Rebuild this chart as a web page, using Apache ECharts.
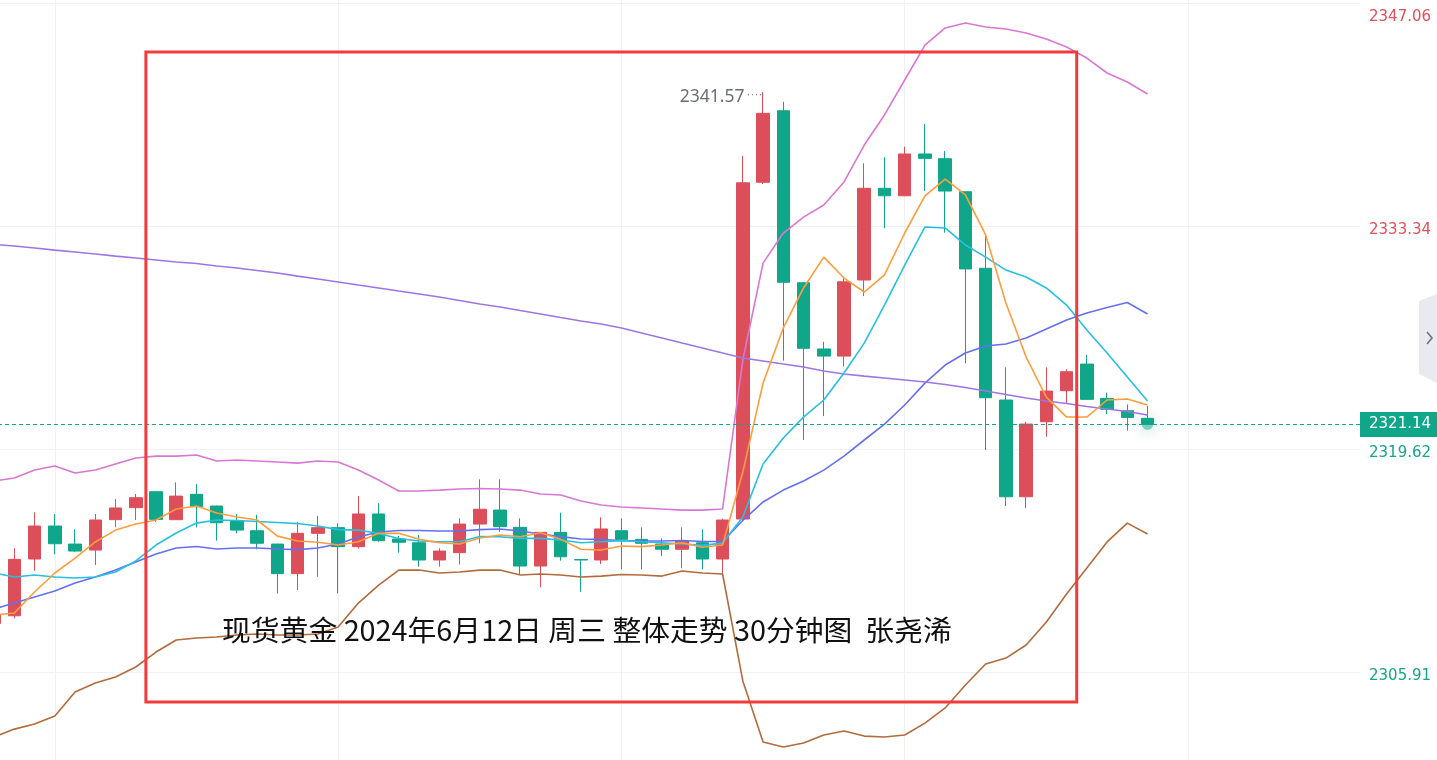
<!DOCTYPE html>
<html>
<head>
<meta charset="utf-8">
<script src="https://cdn.jsdelivr.net/npm/echarts@6/dist/echarts.min.js"></script>
<style>
html,body{margin:0;padding:0;background:#fff;overflow:hidden;width:1437px;height:760px;position:relative}
#chart{position:absolute;left:-16px;top:0;width:1453px;height:760px}
</style>
</head>
<body>
<div id="chart"></div>
<script>
// ---- 30-minute bars (red = up, green = down) ----
const opens = [2308.9, 2309.37, 2312.86, 2314.89, 2313.78, 2313.41, 2315.28, 2316.02, 2317.00, 2315.28,
  2316.84, 2316.12, 2315.20, 2314.60, 2313.78, 2311.96, 2314.44, 2314.79, 2313.62, 2315.63,
  2314.09, 2313.86, 2312.80, 2313.25, 2315.01, 2315.87, 2314.81, 2312.43, 2314.50, 2312.83,
  2312.80, 2314.60, 2314.07, 2313.78, 2313.46, 2313.86, 2312.86, 2315.32, 2336.03, 2340.43,
  2329.85, 2325.78, 2325.34, 2330.02, 2335.66, 2335.20, 2337.77, 2337.48, 2335.45, 2330.74,
  2322.64, 2316.69, 2321.30, 2323.21, 2324.85, 2322.74, 2321.98, 2321.51];
const closes = [2309.4, 2312.84, 2314.89, 2313.80, 2313.35, 2315.26, 2316.00, 2316.63, 2315.30, 2316.73,
  2316.08, 2315.09, 2314.64, 2313.83, 2311.96, 2314.44, 2314.79, 2313.62, 2315.63, 2313.99,
  2313.89, 2312.80, 2313.35, 2315.01, 2315.92, 2314.85, 2312.43, 2314.50, 2313.00, 2312.80,
  2314.71, 2314.07, 2313.83, 2313.46, 2313.97, 2312.86, 2315.26, 2336.00, 2340.27, 2329.88,
  2325.82, 2325.34, 2329.91, 2335.66, 2335.20, 2337.77, 2337.50, 2335.49, 2330.70, 2322.78,
  2316.69, 2321.16, 2323.19, 2324.38, 2322.68, 2322.07, 2321.57, 2321.14];
const lows = [2308.5, 2309.21, 2312.14, 2313.15, 2313.30, 2312.49, 2314.81, 2315.26, 2315.15, 2315.28,
  2314.81, 2313.99, 2314.44, 2313.46, 2310.75, 2310.95, 2311.77, 2310.75, 2313.52, 2313.92,
  2313.25, 2312.39, 2312.39, 2312.53, 2313.83, 2314.54, 2311.94, 2311.12, 2312.76, 2310.85,
  2312.55, 2312.23, 2312.23, 2313.04, 2312.29, 2312.23, 2311.81, 2315.26, 2335.92, 2325.06,
  2320.18, 2321.65, 2324.69, 2329.03, 2333.20, 2335.20, 2335.49, 2332.93, 2324.90, 2319.56,
  2316.12, 2315.98, 2320.38, 2322.44, 2322.68, 2321.76, 2320.75, 2321.14];
const highs = [2309.6, 2313.52, 2315.73, 2315.63, 2314.69, 2315.63, 2316.55, 2316.86, 2317.00, 2317.58,
  2317.47, 2316.15, 2315.63, 2315.57, 2313.80, 2315.15, 2315.52, 2315.06, 2316.73, 2316.29,
  2314.29, 2314.34, 2313.52, 2315.36, 2317.76, 2317.76, 2315.36, 2314.50, 2315.71, 2312.85,
  2315.42, 2315.36, 2314.81, 2314.13, 2314.81, 2314.69, 2315.35, 2337.65, 2341.57, 2340.98,
  2329.90, 2326.22, 2330.12, 2337.20, 2337.57, 2338.22, 2339.61, 2337.95, 2335.45, 2332.85,
  2324.65, 2321.30, 2324.65, 2324.53, 2325.41, 2323.09, 2322.37, 2322.27];

// ---- indicator lines ----
const ma5 = [2309.42, 2309.54, 2310.83, 2312.00, 2312.92, 2313.91, 2314.64, 2315.01, 2315.26, 2315.94,
  2316.12, 2315.69, 2315.44, 2315.26, 2314.27, 2313.97, 2313.89, 2313.72, 2313.92, 2314.44,
  2314.44, 2314.07, 2313.86, 2313.78, 2314.15, 2314.34, 2314.23, 2314.48, 2314.07, 2313.46,
  2313.41, 2313.66, 2313.62, 2313.72, 2313.86, 2313.58, 2313.72, 2318.21, 2323.68, 2327.07,
  2329.53, 2331.43, 2330.14, 2329.28, 2330.33, 2332.91, 2335.19, 2336.23, 2335.25, 2332.79,
  2328.60, 2325.28, 2322.82, 2321.59, 2321.59, 2322.64, 2322.70, 2322.33];
const ma10 = [2312.00, 2311.75, 2311.88, 2311.75, 2311.69, 2311.75, 2312.06, 2312.74, 2313.72, 2314.46,
  2315.07, 2315.26, 2315.23, 2315.17, 2315.11, 2315.04, 2314.89, 2314.67, 2314.64, 2314.43,
  2314.12, 2313.97, 2313.92, 2313.92, 2314.24, 2314.23, 2314.13, 2314.13, 2314.03, 2313.86,
  2313.92, 2313.99, 2313.92, 2313.86, 2313.78, 2313.70, 2313.84, 2315.44, 2318.70, 2320.30,
  2321.59, 2322.64, 2324.30, 2326.14, 2328.48, 2330.94, 2333.28, 2333.22, 2332.17, 2331.43,
  2330.63, 2330.20, 2329.53, 2328.48, 2326.94, 2325.53, 2324.05, 2322.58];
const bollMid = [2309.79, 2310.15, 2310.52, 2310.89, 2311.38, 2311.75, 2312.18, 2312.68, 2313.17, 2313.54,
  2313.63, 2313.48, 2313.54, 2313.54, 2313.48, 2313.44, 2313.54, 2313.78, 2314.21, 2314.52,
  2314.61, 2314.61, 2314.58, 2314.58, 2314.67, 2314.71, 2314.58, 2314.40, 2314.24, 2314.09,
  2314.06, 2314.00, 2313.97, 2313.97, 2314.00, 2313.94, 2313.94, 2315.23, 2316.37, 2317.10,
  2317.66, 2318.33, 2319.19, 2320.18, 2321.16, 2322.33, 2323.68, 2324.79, 2325.53, 2325.96,
  2326.08, 2326.45, 2327.01, 2327.56, 2327.99, 2328.33, 2328.64, 2327.93];
const bollUp = [2317.66, 2317.84, 2318.33, 2318.58, 2318.15, 2318.33, 2318.70, 2319.07, 2319.19, 2319.19,
  2319.26, 2318.89, 2318.95, 2318.89, 2318.83, 2318.76, 2318.89, 2318.83, 2318.33, 2317.72,
  2317.04, 2317.04, 2317.10, 2317.17, 2317.20, 2317.17, 2317.10, 2316.86, 2316.80, 2316.43,
  2316.18, 2316.06, 2316.00, 2315.94, 2315.87, 2315.87, 2315.94, 2325.10, 2331.06, 2332.91,
  2333.89, 2334.63, 2336.05, 2338.32, 2340.17, 2342.32, 2344.47, 2345.52, 2345.82, 2345.58,
  2345.46, 2345.21, 2344.84, 2344.35, 2343.67, 2342.75, 2342.20, 2341.46];
const bollDn = [2301.91, 2302.40, 2302.71, 2303.20, 2304.68, 2305.23, 2305.60, 2306.22, 2307.14, 2307.88,
  2308.00, 2308.06, 2308.19, 2308.25, 2308.19, 2308.19, 2308.25, 2308.68, 2310.15, 2311.26,
  2312.18, 2312.18, 2312.00, 2312.06, 2312.18, 2312.18, 2311.88, 2311.94, 2311.88, 2311.75,
  2311.81, 2311.91, 2311.88, 2311.81, 2312.12, 2312.00, 2311.94, 2305.36, 2301.61, 2301.30,
  2301.54, 2302.04, 2302.28, 2301.97, 2301.91, 2302.04, 2302.77, 2303.70, 2305.11, 2306.40,
  2306.77, 2307.57, 2308.99, 2310.71, 2312.31, 2313.91, 2315.07, 2314.40];
const maLong = [2332.20, 2332.11, 2331.99, 2331.86, 2331.74, 2331.62, 2331.49, 2331.37, 2331.25, 2331.13,
  2331.03, 2330.88, 2330.76, 2330.60, 2330.45, 2330.26, 2330.08, 2329.90, 2329.71, 2329.53,
  2329.34, 2329.16, 2328.97, 2328.76, 2328.54, 2328.36, 2328.14, 2327.93, 2327.71, 2327.50,
  2327.31, 2327.07, 2326.76, 2326.45, 2326.14, 2325.84, 2325.53, 2325.22, 2325.04, 2324.85,
  2324.67, 2324.42, 2324.24, 2324.11, 2323.99, 2323.87, 2323.75, 2323.59, 2323.41, 2323.19,
  2322.98, 2322.76, 2322.58, 2322.42, 2322.24, 2322.09, 2321.93, 2321.72];

// ---- axis ticks / annotation ----
const yTicks = [2305.91, 2319.62, 2333.34, 2347.06];
const totalSlots = 68;
const gridBars = [3, 17, 31, 45, 59];
const boxFirstBar = 8, boxLastBar = 53, boxHigh = 2344.04, boxLow = 2304.07;
const titleText = '现货黄金 2024年6月12日 周三 整体走势 30分钟图  张尧浠';

const UP = '#dd4e5b', DOWN = '#0fa68a';
const categories = Array.from({length: totalSlots}, (_, i) => 'K' + (i + 1));
const candleData = opens.map((o, i) => [o, closes[i], lows[i], highs[i]]);
const lastPrice = closes[closes.length - 1];
const maxHigh = Math.max(...highs);
const maxIdx = highs.indexOf(maxHigh);
const topTick = Math.max(...yTicks);
const SHIFT = 16; // chart canvas starts 16px left of the page so the first bar is cut off

function lineSeries(name, data, color) {
  return { type: 'line', name, data, xAxisIndex: 0, showSymbol: false, symbol: 'none', silent: true,
    z: 3, lineStyle: { color, width: 1.6 } };
}

const chart = echarts.init(document.getElementById('chart'), null, { renderer: 'canvas' });
chart.setOption({
  animation: false,
  backgroundColor: '#ffffff',
  title: {
    text: titleText, left: 217 + SHIFT, top: 611,
    textStyle: { fontFamily: 'Noto Sans CJK SC', fontSize: 28.8, fontWeight: 'normal', color: '#111111' }
  },
  grid: { left: 0, right: 77, top: 0, bottom: 0 },
  xAxis: [
    { type: 'category', data: categories, boundaryGap: true, show: false },
    { type: 'value', min: -0.5, max: 67.5,
      axisLine: { show: false }, axisLabel: { show: false },
      axisTick: { show: false, customValues: gridBars },
      splitLine: { show: true, lineStyle: { color: '#f0f1f4', width: 1 } } }
  ],
  yAxis: {
    type: 'value', position: 'right', min: 2300.5, max: 2347.24,
    axisLine: { show: true, lineStyle: { color: '#e8e9ed' } },
    axisTick: { show: false, customValues: yTicks },
    splitLine: { show: true, lineStyle: { color: '#f0f1f4' } },
    axisLabel: {
      customValues: yTicks, margin: 9,
      formatter: (v) => {
        const key = (v > lastPrice ? 'r' : 'g') + (v === topTick ? 't' : '');
        return '{' + key + '|' + Number(v).toFixed(2) + '}';
      },
      rich: {
        r: { color: '#e0505d', fontSize: 15, fontFamily: 'DejaVu Sans', padding: [8, 0, 0, 0] },
        rt: { color: '#e0505d', fontSize: 15, fontFamily: 'DejaVu Sans', padding: [28, 0, 0, 0] },
        g: { color: '#15a588', fontSize: 15, fontFamily: 'DejaVu Sans', padding: [8, 0, 0, 0] },
        gt: { color: '#15a588', fontSize: 15, fontFamily: 'DejaVu Sans', padding: [28, 0, 0, 0] }
      }
    }
  },
  graphic: [
    { type: 'polygon', silent: true,
      shape: { points: [[1419 + SHIFT, 301], [1437 + SHIFT, 294], [1437 + SHIFT, 383], [1419 + SHIFT, 374]] },
      style: { fill: '#e9eaef' } },
    { type: 'polyline', silent: true,
      shape: { points: [[1427 + SHIFT, 332], [1432 + SHIFT, 338], [1427 + SHIFT, 344]] },
      style: { stroke: '#6f727c', lineWidth: 1.6, fill: null } }
  ],
  series: [
    {
      type: 'candlestick', name: 'K', xAxisIndex: 0, data: candleData, barWidth: 13, z: 2,
      itemStyle: { color: UP, color0: DOWN, borderColor: UP, borderColor0: DOWN, borderWidth: 1 },
      markPoint: {
        symbol: 'circle', symbolSize: 1, silent: true,
        itemStyle: { color: 'rgba(0,0,0,0)' },
        label: {
          show: true, position: 'left', distance: 0, offset: [0, 5],
          formatter: '{v|' + maxHigh.toFixed(2) + '}{d|····}',
          rich: {
            v: { color: '#6b6e78', fontSize: 17.5, fontFamily: 'Noto Sans' },
            d: { color: '#8a8d96', fontSize: 12, verticalAlign: 'top', padding: [0, 0, 0, 2] }
          }
        },
        data: [{ coord: [maxIdx, maxHigh] }]
      },
      markLine: {
        symbol: ['none', 'none'], silent: true,
        lineStyle: { color: DOWN, type: [4, 3], width: 1 },
        label: {
          position: 'end', distance: 0, formatter: lastPrice.toFixed(2),
          backgroundColor: DOWN, color: '#ffffff', fontSize: 15, fontFamily: 'DejaVu Sans',
          padding: [5, 6, 5, 9]
        },
        data: [{ yAxis: lastPrice }]
      }
    },
    lineSeries('BOLL UP', bollUp, '#d878d4'),
    lineSeries('BOLL DN', bollDn, '#b26b3c'),
    lineSeries('BOLL MID', bollMid, '#6470f0'),
    lineSeries('MA LONG', maLong, '#9d76e6'),
    lineSeries('MA10', ma10, '#26c0e0'),
    lineSeries('MA5', ma5, '#ff9d3c'),
    {
      type: 'scatter', xAxisIndex: 0, z: 4, silent: true,
      data: [[closes.length - 1, lastPrice]], symbolSize: 11,
      itemStyle: { color: 'rgba(15,166,138,0.6)', shadowBlur: 14, shadowColor: 'rgba(15,166,138,0.9)' }
    },
    {
      type: 'line', xAxisIndex: 1, data: [], silent: true, z: 10,
      markArea: {
        silent: true, z: 10,
        itemStyle: { color: 'rgba(0,0,0,0)', borderColor: '#f23c3c', borderWidth: 3 },
        data: [[{ coord: [boxFirstBar - 0.5, boxHigh] }, { coord: [boxLastBar + 0.5, boxLow] }]]
      }
    }
  ]
});
</script>
</body>
</html>
